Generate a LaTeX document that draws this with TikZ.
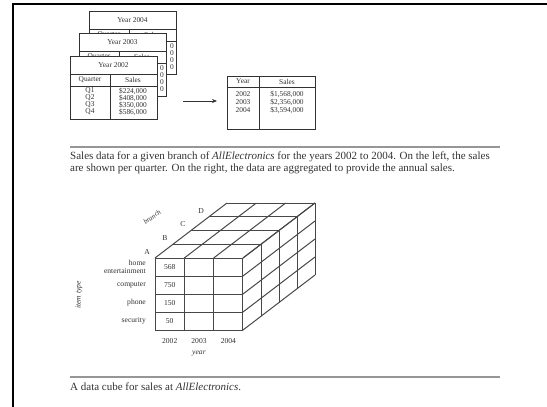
\documentclass[tikz,border=0pt]{standalone}
\usepackage{fontspec}
\setmainfont{Liberation Serif}
\usetikzlibrary{arrows.meta, positioning, calc}
\definecolor{inkgray}{RGB}{50, 50, 50}
\definecolor{rulegray}{RGB}{150, 150, 150}

\begin{document}
\begin{tikzpicture}[
    x=1pt, y=-1pt,
    every node/.style={font=\fontsize{7.4}{8}\selectfont, text=inkgray, inner sep=0pt},
    tbl/.style={rectangle, draw=inkgray, line width=1.2pt, fill=white, anchor=north west, minimum width=87pt, minimum height=63pt},
    sumtbl/.style={tbl, minimum width=88pt, minimum height=53pt},
    rowline/.style={draw=inkgray, line width=0.8pt},
    cubeline/.style={draw=inkgray!90, line width=1pt},
    axislabel/.style={font=\fontsize{7.6}{8.5}\selectfont\itshape},
    dimlabel/.style={font=\fontsize{7.6}{7.8}\selectfont},
    caption/.style={font=\fontsize{11}{12}\selectfont, anchor=north west, align=left},
    sep/.style={draw=rulegray, line width=1.8pt},
    arrow/.style={-{Stealth[length=5pt, width=4pt]}, line width=0.8pt, inkgray}
]
\useasboundingbox (0,0) rectangle (547,407);

% Frame
\draw[line width=2pt] (13,407) -- (13,4) -- (547,4);

% Quarterly tables, back to front
\foreach \yr/\x/\y in {2004/89/11, 2003/79/33, 2002/70/56} {
  \node[tbl] (y\yr) at (\x,\y) {};
  \draw[rowline] ($(y\yr.north west)+(0,18)$) -- ($(y\yr.north east)+(0,18)$);
  \draw[rowline] ($(y\yr.north west)+(0,30)$) -- ($(y\yr.north east)+(0,30)$);
  \draw[rowline] ($(y\yr.north west)+(40,18)$) -- ($(y\yr.south west)+(40,0)$);
  \node at ($(y\yr.north west)+(43.5,9)$) {Year \yr};
  \node at ($(y\yr.north west)+(20,24)$) {Quarter};
  \node at ($(y\yr.north west)+(63,24)$) {Sales};
  \ifnum\yr>2002
    \foreach \r in {0,...,3}
      \node[anchor=east] at ($(y\yr.north west)+(85,35+7*\r)$) {0};
  \fi
}

% Front table contents
\foreach \q/\v [count=\r from 0] in {Q1/{\$224,000}, Q2/{\$408,000}, Q3/{\$350,000}, Q4/{\$586,000}} {
  \node (q\q) at ($(y2002.north west)+(20,35+7*\r)$) {\q};
  \node (s\q) at ($(y2002.north west)+(63,35+7*\r)$) {\v};
}

% Annual table
\node[sumtbl] (annual) at (227,76) {};
\draw[rowline] ($(annual.north west)+(0,11)$) -- ($(annual.north east)+(0,11)$);
\draw[rowline] ($(annual.north west)+(32,0)$) -- ($(annual.south west)+(32,0)$);
\node at ($(annual.north west)+(16,5.5)$) {Year};
\node at ($(annual.north west)+(60,5.5)$) {Sales};
\foreach \yr/\v [count=\r from 0] in {2002/{\$1,568,000}, 2003/{\$2,356,000}, 2004/{\$3,594,000}} {
  \node (ay\yr) at ($(annual.north west)+(16,18+8*\r)$) {\yr};
  \node (as\yr) at ($(annual.north west)+(60,18+8*\r)$) {\v};
}

\coordinate (arrowtail) at (183,101);
\draw[arrow, shorten >=10pt] (arrowtail) -- (arrowtail -| annual.west);

% First caption
\draw[sep] (70,147) -- (500,147);
\node[caption] (cap1) at (70,152) {Sales data for a given branch of \textit{AllElectronics} for the years 2002 to 2004. On the left, the sales\\are shown per quarter. On the right, the data are aggregated to provide the annual sales.};

% Data cube: front face
\foreach \i in {0,...,3}
  \draw[cubeline] (155+29.33*\i,258) -- (155+29.33*\i,330);
\foreach \j in {0,...,4}
  \draw[cubeline] (155,258+18*\j) -- (243,258+18*\j);
% top face
\foreach \k in {1,...,4}
  \draw[cubeline] (155+18*\k,258-13.75*\k) -- (243+18*\k,258-13.75*\k);
\foreach \i in {0,...,3}
  \draw[cubeline] (155+29.33*\i,258) -- (227+29.33*\i,203);
% side face
\foreach \k in {1,...,4}
  \draw[cubeline] (243+18*\k,258-13.75*\k) -- (243+18*\k,330-13.75*\k);
\foreach \j in {0,...,4}
  \draw[cubeline] (243,258+18*\j) -- (315,203+18*\j);

% Cell values
\foreach \v [count=\r from 0] in {568, 750, 150, 50}
  \node[dimlabel] (c\r) at (169.7,267+18*\r) {\v};

% Item types
\node[dimlabel, anchor=east, align=right] (home) at (146,267) {home\\entertainment};
\node[dimlabel, anchor=east] (computer) at (146,285) {computer};
\node[dimlabel, anchor=east] (phone) at (146,303) {phone};
\node[dimlabel, anchor=east] (security) at (146,321) {security};
\node[axislabel, rotate=90] (itemtype) at (79,295) {item type};

% Years
\foreach \yr [count=\i from 0] in {2002, 2003, 2004}
  \node[dimlabel] (x\yr) at (169.7+29.33*\i,341) {\yr};
\node[axislabel] (year) at (199,354) {year};

% Branches
\foreach \b [count=\k from 0] in {A, B, C, D}
  \node[dimlabel] (b\b) at (147+18*\k,252-13.75*\k) {\b};
\node[axislabel, font=\fontsize{7}{8}\selectfont\itshape, rotate=37] (branch) at (152,217) {branch};

% Second caption
\draw[sep] (70,377) -- (500,377);
\node[caption] (cap2) at (70,383) {A data cube for sales at \textit{AllElectronics}.};

\end{tikzpicture}
\end{document}
